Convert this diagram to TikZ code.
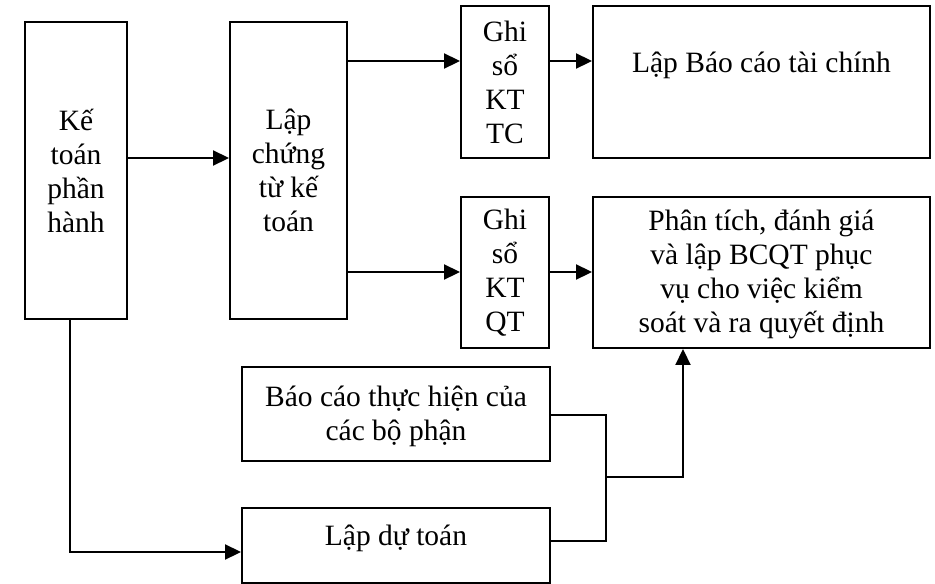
\documentclass[tikz,border=0pt]{standalone}
\usepackage{fontspec}
\setmainfont{Liberation Serif}
\usetikzlibrary{arrows.meta}
\begin{document}
\begin{tikzpicture}[x=1pt,y=-1pt,
  box/.style={draw,line width=1.9pt,inner sep=0pt},
  txt/.style={align=center,font=\fontsize{29.5}{34}\selectfont,inner sep=0pt},
  conn/.style={line width=1.9pt},
  arr/.style={line width=1.9pt,-{Triangle[length=16pt,width=15pt]}}]
\useasboundingbox (0,0) rectangle (935,584);
% boxes
\node[box,minimum width=102pt,minimum height=297pt] (k1) at (76,170.5) {};
\node[box,minimum width=117pt,minimum height=297pt] (k2) at (288.5,170.5) {};
\node[box,minimum width=88pt,minimum height=152pt] (g1) at (505,82) {};
\node[box,minimum width=337pt,minimum height=152pt] (l1) at (761.5,82) {};
\node[box,minimum width=88pt,minimum height=151pt] (g2) at (505,272.5) {};
\node[box,minimum width=337pt,minimum height=151pt] (p) at (761.5,272.5) {};
\node[box,minimum width=308pt,minimum height=94pt] (b) at (396,414) {};
\node[box,minimum width=308pt,minimum height=75pt] (d) at (396,545.5) {};
% texts
\node[txt] (tk1) at (k1.center) {Kế\\toán\\phần\\hành};
\node[txt] (tk2) at (k2.center) {Lập\\chứng\\từ kế\\toán};
\node[txt] (tg1) at (g1.center) {Ghi\\sổ\\KT\\TC};
\node[txt] (tl1) at (761.5,65) {Lập Báo cáo tài chính};
\node[txt] (tg2) at (g2.center) {Ghi\\sổ\\KT\\QT};
\node[txt] (tp) at (761.5,274) {Phân tích, đánh giá\\ và lập BCQT phục\\vụ cho việc kiểm\\soát và ra quyết định};
\node[txt] (tb) at (396,416) {Báo cáo thực hiện của\\các bộ phận};
\node[txt] (td) at (396,538) {Lập dự toán};
% junction coordinates
\coordinate (jx) at (606,477);
\coordinate (px) at (683,477);
\coordinate (kx) at (70,552);
% connectors
\draw[arr] (k1.east |- 0,158) -- (k2.west |- 0,158);
\draw[arr] (k2.east |- 0,61) -- (g1.west |- 0,61);
\draw[arr] (k2.east |- 0,272) -- (g2.west |- 0,272);
\draw[arr] (g1.east |- 0,61) -- (l1.west |- 0,61);
\draw[arr] (g2.east |- 0,272) -- (p.west |- 0,272);
\draw[conn] (b.east |- 0,415) -| (jx |- 0,541) -- (d.east |- 0,541);
\draw[arr] (jx) -- (px) -- (p.south -| px);
\draw[arr] (k1.south -| kx) -- (kx) -- (d.west |- kx);
\end{tikzpicture}
\end{document}
